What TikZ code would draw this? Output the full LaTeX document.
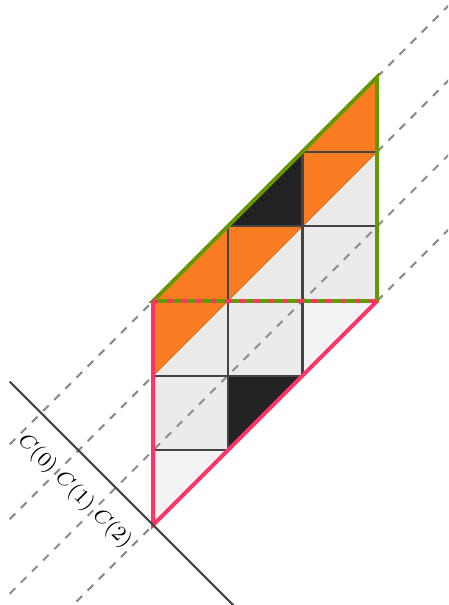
\documentclass[tikz,border=0pt]{standalone}
\usepackage{tikz}
\definecolor{cpink}{HTML}{FF3366}
\definecolor{cgreen}{HTML}{669900}
\definecolor{corange}{HTML}{F97B22}
\definecolor{cdark}{HTML}{222222}
\definecolor{cgrid}{HTML}{444444}
\definecolor{cfull}{HTML}{EBEBEB}
\definecolor{chalf}{HTML}{F3F3F3}

\begin{document}
\begin{tikzpicture}[
    guide/.style={draw=gray!90, dashed, line width=0.8pt},
    gridln/.style={draw=cgrid, line width=0.8pt},
    bound/.style={line width=1.5pt},
    ultri/.style={fill=#1, draw=#1!85!black, line width=0.3pt},
    lbl/.style={rotate=-45, inner sep=0.5pt, font=\footnotesize}
]
\useasboundingbox (-2.05,-1.07) rectangle (3.95,7.03);
\clip (-2.05,-1.07) rectangle (3.95,7.03);

\coordinate (axA) at (-1.92,1.92);
\coordinate (axB) at (1.2,-1.2);

% guides under the cells
\foreach \c in {0,2,3}
  \draw[guide] (-1.92,-1.92+\c) -- (4.2,4.2+\c);

% cells
\foreach \x/\y in {0/1,0/2,1/2,1/3,2/3,2/4}
  \fill[cfull] (\x,\y) rectangle ++(1,1);
\foreach \x/\y in {0/0,2/2}
  \fill[chalf] (\x,\y) -- ++(0,1) -- ++(1,0) -- cycle;
\foreach \x/\y/\col in {0/2/corange,1/3/corange,2/4/corange,1/1/cdark}
  \path[ultri=\col] (\x,\y) -- ++(0,1) -- ++(1,0) -- cycle;
\foreach \x/\y/\col in {0/3/corange,2/5/corange,1/4/cdark}
  \path[ultri=\col] (\x,\y) -- ++(1,0) -- ++(0,1) -- cycle;

\draw[guide] (-1.92,-0.92) -- (4.2,5.2);

% grid
\draw[gridln] (0,1) -- (1,1) (0,2) -- (2,2) (1,4) -- (3,4) (2,5) -- (3,5);
\draw[gridln] (1,1) -- (1,4) (2,2) -- (2,5);

% boundaries
\draw[bound, cgreen] (0,3) -- (3,6) -- (3,3) -- cycle;
\draw[bound, cpink] (0,3) -- (0,0) -- (3,3);
\draw[bound, cpink, dash pattern=on 2pt off 3.5pt] (0,3) -- (3,3);

\draw[cgrid, line width=0.8pt] (axA) -- (axB);

\foreach \k in {0,1,2}
  \node[lbl] (lbl\k) at ({(-3.1+\k)/2},{(1.9-\k)/2}) {$C(\k)$};

\end{tikzpicture}
\end{document}
